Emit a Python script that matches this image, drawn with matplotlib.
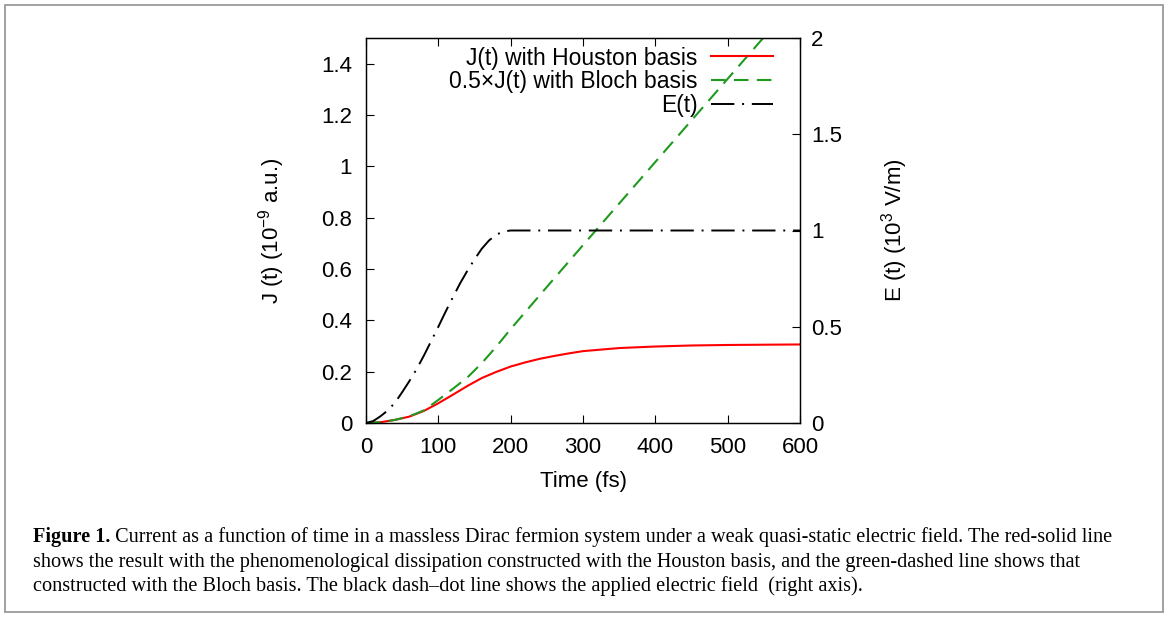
import matplotlib
matplotlib.use("Agg")
import matplotlib.pyplot as plt
from matplotlib.patches import Rectangle

# ---- data ----
t_E = [0, 10, 20, 30, 40, 50, 60, 70, 80, 90, 100, 110, 120, 130, 140, 150,
       160, 170, 180, 190, 200, 600]
E_t = [0, 0.01, 0.035, 0.065, 0.105, 0.16, 0.218, 0.28, 0.35, 0.425, 0.5,
       0.578, 0.652, 0.725, 0.79, 0.85, 0.905, 0.948, 0.978, 0.995, 1.0, 1.0]

t_H = [0, 20, 40, 60, 80, 100, 120, 140, 160, 180, 200, 220, 240, 260, 280,
       300, 350, 400, 450, 500, 550, 600]
J_H = [0, 0.003, 0.012, 0.025, 0.047, 0.077, 0.110, 0.144, 0.175, 0.199,
       0.220, 0.236, 0.250, 0.261, 0.271, 0.280, 0.292, 0.298, 0.302, 0.304,
       0.305, 0.306]

t_B = [0, 20, 40, 60, 80, 100, 120, 140, 160, 180, 200, 250, 300, 350, 400,
       450, 500, 550, 600]
J_B = [0, 0.003, 0.012, 0.026, 0.049, 0.090, 0.133, 0.177, 0.233, 0.297,
       0.366, 0.530, 0.693, 0.855, 1.017, 1.179, 1.341, 1.503, 1.665]

x_ticks = [0, 100, 200, 300, 400, 500, 600]
yl_ticks = [0, 0.2, 0.4, 0.6, 0.8, 1, 1.2, 1.4]
yr_ticks = [0, 0.5, 1, 1.5, 2]

labels = ["J(t) with Houston basis", "0.5×J(t) with Bloch basis", "E(t)"]

caption_bold = "Figure 1."
caption_lines = [
    " Current as a function of time in a massless Dirac fermion system under a weak quasi-static electric field. The red-solid line",
    "shows the result with the phenomenological dissipation constructed with the Houston basis, and the green-dashed line shows that",
    "constructed with the Bloch basis. The black dash\u2013dot line shows the applied electric field  (right axis).",
]

# ---- figure ----
W, H = 1168, 617
fig = plt.figure(figsize=(W / 100, H / 100), dpi=100)
plt.rcParams['font.family'] = ['Liberation Sans', 'DejaVu Sans']
plt.rcParams['mathtext.fontset'] = 'custom'
plt.rcParams['mathtext.rm'] = 'Liberation Sans'
plt.rcParams['mathtext.it'] = 'Liberation Sans:italic'
plt.rcParams['mathtext.bf'] = 'Liberation Sans:bold'
FS = 16

def fx(px):
    return px / W

def fy(py):
    return 1 - py / H

ax = fig.add_axes([fx(366), fy(423), fx(800) - fx(366), fy(38) - fy(423)])
ax2 = ax.twinx()

ax.plot(t_H, J_H, color='#ff0000', lw=1.5, label=labels[0])
ax.plot(t_B, J_B, color='#1f9a1f', lw=1.5, linestyle=(0, (7.0, 4.0)),
        label=labels[1])
lE, = ax2.plot(t_E, E_t, color='black', lw=1.4,
               linestyle=(0, (12, 4, 1, 4)), label=labels[2])

ax.set_xlim(0, 600)
ax.set_ylim(0, 1.5)
ax2.set_ylim(0, 2)
ax.set_xticks(x_ticks)
ax.set_xticklabels([str(v) for v in x_ticks])
ax.set_yticks(yl_ticks)
ax.set_yticklabels(['%g' % v for v in yl_ticks])
ax2.set_yticks(yr_ticks)
ax2.set_yticklabels(['%g' % v for v in yr_ticks])

ax.tick_params(axis='x', direction='in', top=True, bottom=True, length=6,
               width=0.8, labelsize=FS, pad=10)
ax.tick_params(axis='y', direction='in', left=True, right=False, length=6,
               width=0.8, labelsize=FS, pad=10)
ax2.tick_params(axis='y', direction='in', left=False, right=True, length=6,
                width=0.8, labelsize=FS, pad=8)
for a in (ax, ax2):
    for s in a.spines.values():
        s.set_linewidth(0.9)

fig.text(fx(272), fy(231), r'J (t) (10$^{-9}$ a.u.)', rotation=90,
         ha='center', va='center', fontsize=FS)
fig.text(fx(895), fy(230), r'E (t) (10$^{3}$ V/m)', rotation=90,
         ha='center', va='center', fontsize=FS)
fig.text(fx(583), fy(482), 'Time (fs)', ha='center', va='center', fontsize=FS)

handles = ax.get_lines() + [lE]
leg = ax.legend(handles, labels, loc='upper right',
                bbox_to_anchor=(fx(773), fy(46.5)),
                bbox_transform=fig.transFigure, frameon=False,
                markerfirst=False, fontsize=16.5, handlelength=2.7,
                handletextpad=0.6, labelspacing=0.04, borderpad=0,
                borderaxespad=0)
leg.set_zorder(5)

# ---- frame ----
fig.patches.append(Rectangle((fx(5), fy(612)), fx(1163) - fx(5),
                             fy(5) - fy(612), transform=fig.transFigure,
                             fill=False, edgecolor='#9a9a9a', lw=1.3))

# ---- caption ----
fig.canvas.draw()
r = fig.canvas.get_renderer()
serif = ['Liberation Serif', 'DejaVu Serif']
test_b = fig.text(0, 0, caption_bold, fontsize=12, family=serif,
                  weight='bold')
test_r = fig.text(0, 0, caption_lines[0], fontsize=12, family=serif)
wb = test_b.get_window_extent(r).width
wr = test_r.get_window_extent(r).width
test_b.remove()
test_r.remove()
cap_fs = 12 * (1108 - 33) / (wb + wr)

x0 = 33
base_y = [542, 566.5, 591]
tb = fig.text(fx(x0), fy(base_y[0]), caption_bold, fontsize=cap_fs,
              family=serif, weight='bold', va='baseline')
wb2 = tb.get_window_extent(r).width
fig.text(fx(x0 + wb2), fy(base_y[0]), caption_lines[0], fontsize=cap_fs,
         family=serif, va='baseline')
fig.text(fx(x0), fy(base_y[1]), caption_lines[1], fontsize=cap_fs,
         family=serif, va='baseline')
fig.text(fx(x0), fy(base_y[2]), caption_lines[2], fontsize=cap_fs,
         family=serif, va='baseline')

fig.savefig('out.png', dpi=100)
